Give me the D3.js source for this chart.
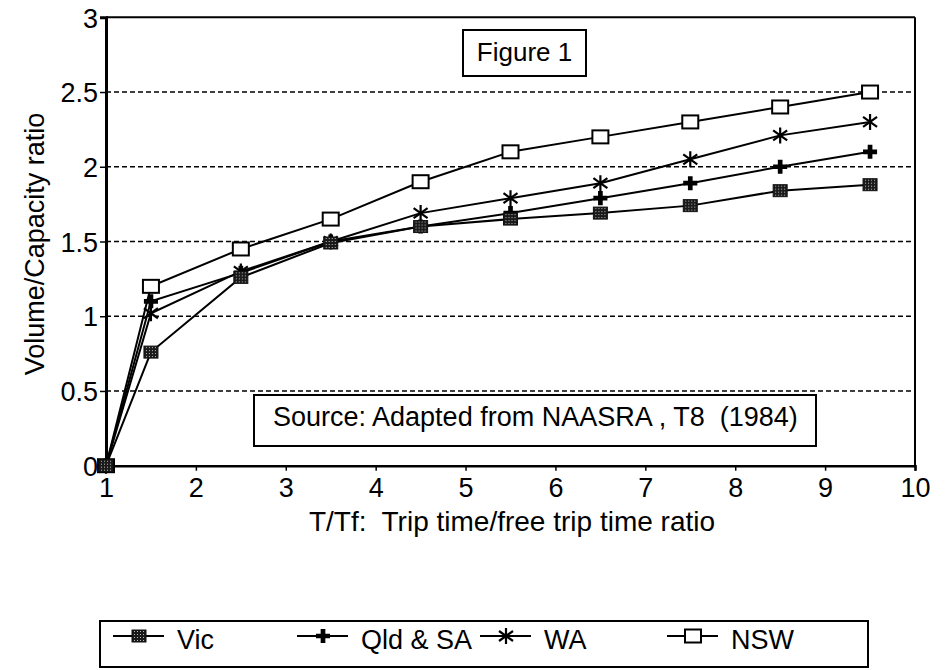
<!DOCTYPE html>
<html>
<head>
<meta charset="utf-8">
<script src="https://cdn.jsdelivr.net/npm/d3@7"></script>
<style>
  html, body { margin: 0; padding: 0; background: #fff; }
  svg { display: block; }
  text { font-family: "Liberation Sans", Arial, Helvetica, sans-serif; fill: #000; white-space: pre; }
</style>
</head>
<body>
<svg id="chart" width="946" height="670"></svg>
<script>
// ---- data ----
const tripRatio = [1, 1.5, 2.5, 3.5, 4.5, 5.5, 6.5, 7.5, 8.5, 9.5];
const vic   = [0, 0.76, 1.26, 1.49, 1.60, 1.65, 1.69, 1.74, 1.84, 1.88];
const qldSa = [0, 1.10, 1.29, 1.50, 1.60, 1.69, 1.79, 1.89, 2.00, 2.10];
const wa    = [0, 1.02, 1.30, 1.50, 1.69, 1.79, 1.89, 2.05, 2.21, 2.30];
const nsw   = [0, 1.20, 1.45, 1.65, 1.90, 2.10, 2.20, 2.30, 2.40, 2.50];
const seriesNames = ["Vic", "Qld & SA", "WA", "NSW"];
const xTicks = [1, 2, 3, 4, 5, 6, 7, 8, 9, 10];
const yTicks = [0, 0.5, 1, 1.5, 2, 2.5, 3];
const xTitle = "T/Tf:  Trip time/free trip time ratio";
const yTitle = "Volume/Capacity ratio";
const figLabel = "Figure 1";
const sourceLabel = "Source: Adapted from NAASRA , T8  (1984)";

const seriesValues = [vic, qldSa, wa, nsw];
const markerTypes = ["vic", "qld", "wa", "nsw"];

const svg = d3.select("#chart");

// pattern for Vic marker
const defs = svg.append("defs");
const pat = defs.append("pattern").attr("id", "dither").attr("patternUnits", "userSpaceOnUse")
  .attr("width", 3).attr("height", 3);
pat.append("rect").attr("width", 3).attr("height", 3).attr("fill", "#1a1a1a");
pat.append("rect").attr("x", 1).attr("y", 1).attr("width", 1).attr("height", 1).attr("fill", "#bbb");

const x = d3.scaleLinear().domain([1, 10]).range([106, 915]);
const y = d3.scaleLinear().domain([0, 3]).range([465.7, 17.3]);

// gridlines
svg.append("g").selectAll("line").data(yTicks.filter(v => v > 0 && v < 3)).join("line")
  .attr("x1", x(1)).attr("x2", x(10))
  .attr("y1", d => y(d)).attr("y2", d => y(d))
  .attr("stroke", "#000").attr("stroke-width", 1.6).attr("stroke-dasharray", "5,3");

// frame top/right
svg.append("line").attr("x1", x(1)).attr("x2", x(10)).attr("y1", y(3)).attr("y2", y(3))
  .attr("stroke", "#000").attr("stroke-width", 2);
svg.append("line").attr("x1", x(10)).attr("x2", x(10)).attr("y1", y(3)).attr("y2", y(0))
  .attr("stroke", "#000").attr("stroke-width", 2);

// axes
const xAxis = d3.axisBottom(x).tickValues(xTicks).tickSize(5).tickFormat(d3.format("d"));
const gx = svg.append("g").attr("transform", `translate(0,${y(0)})`).call(xAxis);
gx.select(".domain").attr("stroke-width", 2.5);
gx.selectAll(".tick line").attr("stroke-width", 1.5);
gx.selectAll(".tick text").attr("font-size", 27).attr("dy", null).attr("y", 31)
  .style("font-family", '"Liberation Sans", Arial, sans-serif');

const yAxis = d3.axisLeft(y).tickValues(yTicks).tickSize(6).tickPadding(2)
  .tickFormat(d => d3.format("")(d));
const gy = svg.append("g").attr("transform", `translate(${x(1)},0)`).call(yAxis);
gy.select(".domain").attr("stroke-width", 3);
gy.selectAll(".tick line").attr("stroke-width", 1.5);
gy.selectAll(".tick text").attr("font-size", 27).attr("dy", "0.36em")
  .style("font-family", '"Liberation Sans", Arial, sans-serif');
svg.selectAll(".domain").attr("stroke", "#000");

// lines
const line = d3.line().x((d, i) => x(tripRatio[i])).y(d => y(d));
svg.append("g").selectAll("path").data(seriesValues).join("path")
  .attr("d", d => line(d)).attr("fill", "none").attr("stroke", "#000").attr("stroke-width", 2);

// markers
function drawMarker(g, type) {
  if (type === "vic") {
    g.append("rect").attr("x", -7).attr("y", -6).attr("width", 14).attr("height", 12)
      .attr("fill", "url(#dither)").attr("stroke", "#111").attr("stroke-width", 1);
  } else if (type === "qld") {
    g.append("path").attr("d", d3.symbol(d3.symbolCross, 110)()).attr("fill", "#000");
  } else if (type === "wa") {
    g.append("path").attr("d", "M0,-8V8M-7,-5L7,5M-7,5L7,-5")
      .attr("stroke", "#000").attr("stroke-width", 2.2).attr("fill", "none");
  } else {
    g.append("rect").attr("x", -8).attr("y", -6.5).attr("width", 16).attr("height", 13)
      .attr("fill", "#fff").attr("stroke", "#000").attr("stroke-width", 2);
  }
}
// draw NSW first so filled markers sit on top where they overlap
[3, 2, 1, 0].forEach(si => {
  const vals = seriesValues[si];
  const g = svg.append("g");
  vals.forEach((v, i) => {
    const m = g.append("g").attr("transform", `translate(${x(tripRatio[i])},${y(v)})`);
    drawMarker(m, markerTypes[si]);
  });
});

// axis titles
svg.append("text").attr("x", 512).attr("y", 531).attr("text-anchor", "middle")
  .attr("font-size", 28).attr("xml:space", "preserve").text(xTitle);
svg.append("text").attr("transform", "translate(44,244) rotate(-90)").attr("text-anchor", "middle")
  .attr("font-size", 27).text(yTitle);

// Figure 1 box
svg.append("rect").attr("x", 463).attr("y", 30).attr("width", 123).attr("height", 46)
  .attr("fill", "#fff").attr("stroke", "#000").attr("stroke-width", 2);
svg.append("text").attr("x", 524.5).attr("y", 61).attr("text-anchor", "middle")
  .attr("font-size", 26).text(figLabel);

// Source box
svg.append("rect").attr("x", 254).attr("y", 395).attr("width", 562).attr("height", 51)
  .attr("fill", "#fff").attr("stroke", "#000").attr("stroke-width", 2);
svg.append("text").attr("x", 273).attr("y", 426).attr("font-size", 27)
  .attr("xml:space", "preserve").text(sourceLabel);

// legend
svg.append("rect").attr("x", 100).attr("y", 621).attr("width", 768).attr("height", 46)
  .attr("fill", "#fff").attr("stroke", "#000").attr("stroke-width", 2);
const legendX = [113, 297, 480, 667];
seriesNames.forEach((name, i) => {
  const g = svg.append("g").attr("transform", `translate(${legendX[i]},636)`);
  g.append("line").attr("x1", 0).attr("x2", 51).attr("y1", 0).attr("y2", 0)
    .attr("stroke", "#000").attr("stroke-width", 2);
  const m = g.append("g").attr("transform", "translate(26,0)");
  drawMarker(m, markerTypes[i]);
  g.append("text").attr("x", 64).attr("y", 13).attr("font-size", 27).text(name);
});
</script>
</body>
</html>
